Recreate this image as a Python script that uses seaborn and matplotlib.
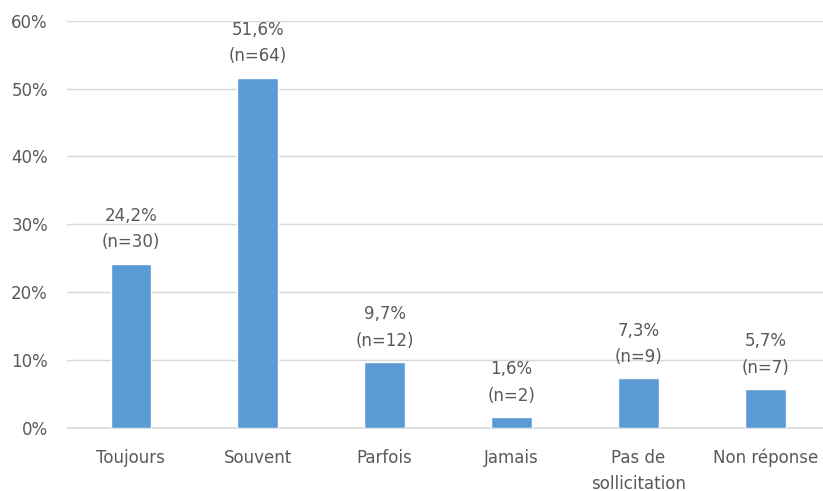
import matplotlib
matplotlib.use("Agg")
import matplotlib.pyplot as plt
import pandas as pd
import seaborn as sns
from matplotlib.ticker import FuncFormatter

categories = ["Toujours", "Souvent", "Parfois", "Jamais", "Pas de\nsollicitation", "Non réponse"]
percents = [24.2, 51.6, 9.7, 1.6, 7.3, 5.7]
counts = [30, 64, 12, 2, 9, 7]
y_ticks = [0, 10, 20, 30, 40, 50, 60]

sns.set_theme(style="white")
plt.rcParams["font.family"] = ["DejaVu Sans"]

TEXT = "#595959"
GRID = "#d9d9d9"
BAR = "#5b9bd5"

df = pd.DataFrame({"cat": categories, "pct": percents, "n": counts})

fig = plt.figure(figsize=(8.23, 4.91), dpi=100)
ax = fig.add_axes([0.0819, 0.1283, 0.9254, 0.8295])

sns.barplot(data=df, x="cat", y="pct", color=BAR, width=0.32, saturation=1, ax=ax, zorder=3)

ax.set_ylim(0, 60)
ax.set_yticks(y_ticks)
ax.yaxis.set_major_formatter(FuncFormatter(lambda v, _: f"{v:.0f}%"))
ax.grid(axis="y", color=GRID, linewidth=1, zorder=0)
ax.axhline(0, color=GRID, linewidth=1.2, clip_on=False, zorder=2)
ax.set_axisbelow(True)
for s in ax.spines.values():
    s.set_visible(False)
ax.set_xlabel("")
ax.set_ylabel("")
ax.tick_params(axis="y", length=0, pad=14, labelsize=12, labelcolor=TEXT)
ax.tick_params(axis="x", length=0, pad=15, labelsize=12, labelcolor=TEXT)
for t in ax.get_xticklabels():
    t.set_linespacing(1.55)

for i, (p, n) in enumerate(zip(percents, counts)):
    label = f"{p:.1f}%".replace(".", ",") + f"\n(n={n})"
    ax.annotate(label, (i, p), xytext=(0, 9), textcoords="offset points",
                ha="center", va="bottom", fontsize=12, color=TEXT, linespacing=1.6)

fig.savefig("out.png", dpi=100)
